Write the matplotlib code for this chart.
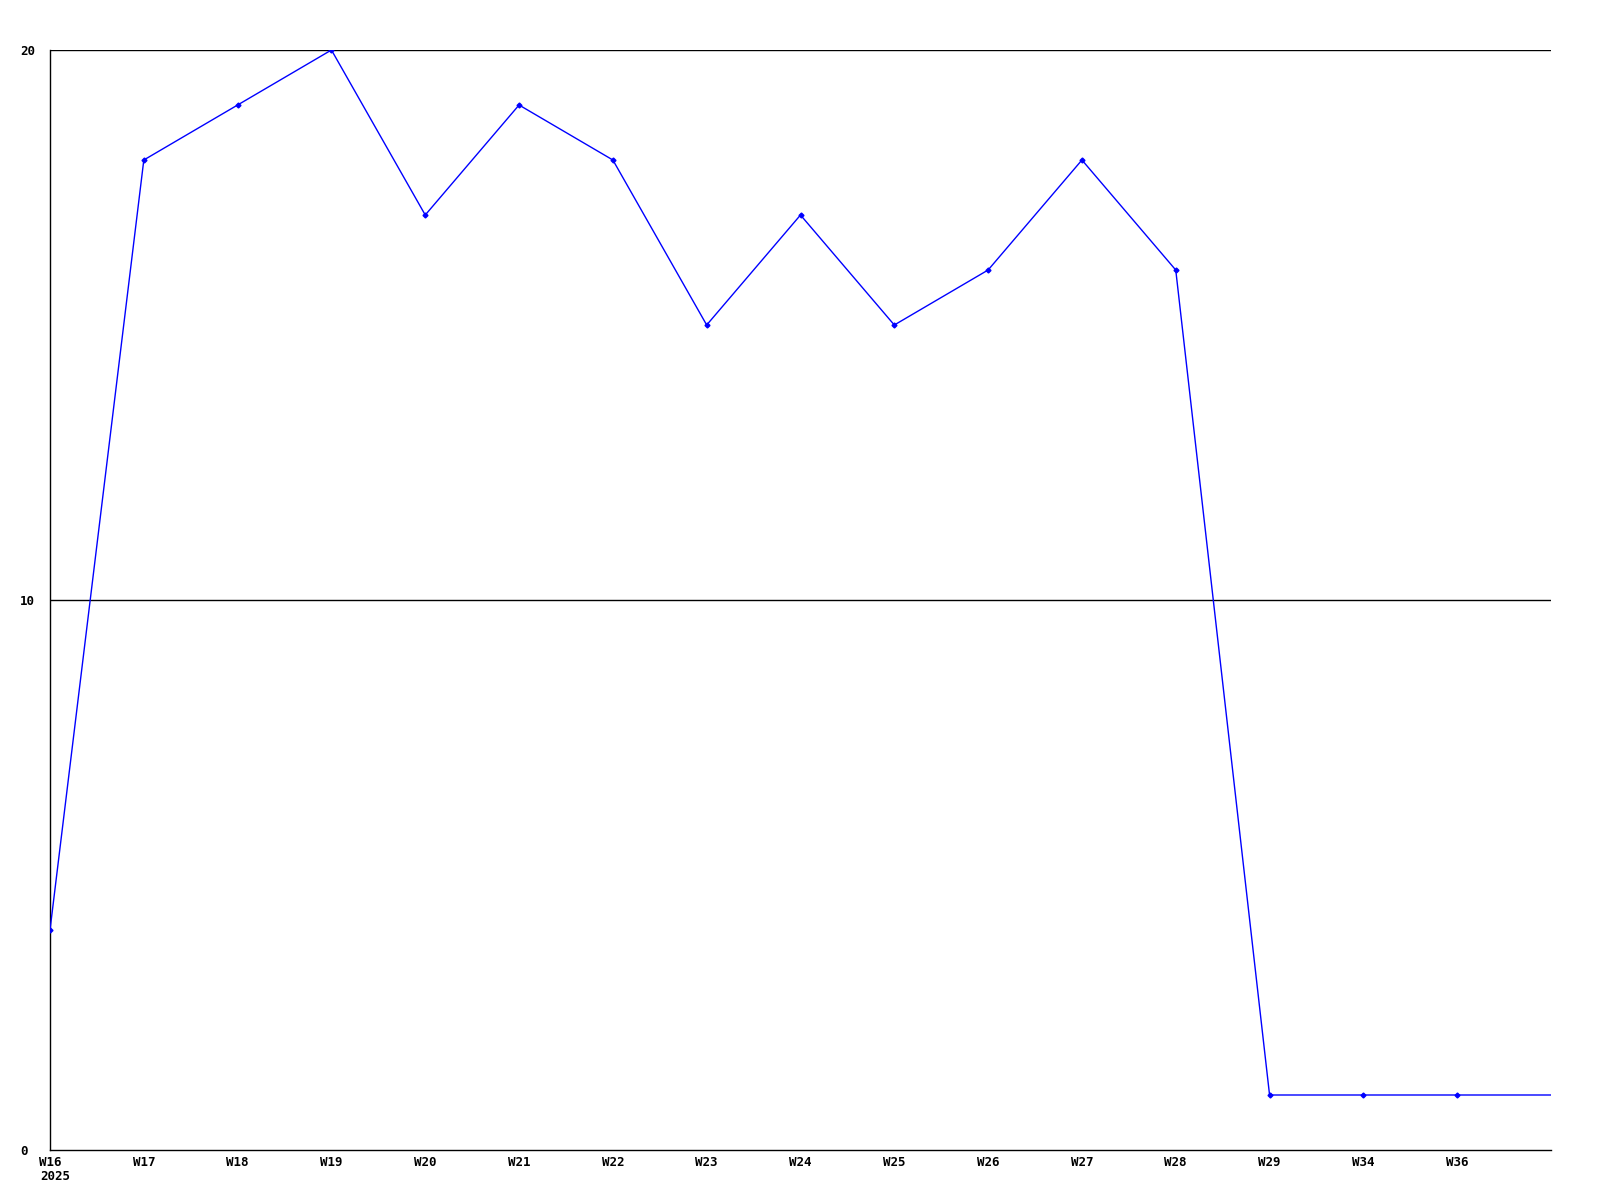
import matplotlib.pyplot as plt

# weekly counts
weeks = ['W16', 'W17', 'W18', 'W19', 'W20', 'W21', 'W22', 'W23',
         'W24', 'W25', 'W26', 'W27', 'W28', 'W29', 'W34', 'W36']
counts = [4, 18, 19, 20, 17, 19, 18, 15, 17, 15, 16, 18, 16, 1, 1, 1]
year_label = '2025'
y_ticks = [0, 10, 20]

W, H = 1600, 1200
fig = plt.figure(figsize=(W / 100, H / 100), dpi=100)
ax = fig.add_axes([50 / W, 50 / H, 1501 / W, 1100 / H])

blue = '#0000ff'
x = list(range(len(weeks)))

# line runs on to the right edge at the last value
ax.plot(x + [len(weeks)], counts + [counts[-1]], color=blue, linewidth=1, zorder=3)
ax.plot(x, counts, linestyle='none', marker='D', markersize=2.5, color=blue, zorder=4)

for yv in y_ticks[1:]:
    ax.axhline(yv, color='black', linewidth=1, zorder=2)

ax.set_xlim(0, len(weeks))
ax.set_ylim(0, 20)

for s in ['top', 'right']:
    ax.spines[s].set_visible(False)
for s in ['left', 'bottom']:
    ax.spines[s].set_color('black')
    ax.spines[s].set_linewidth(1)

font = dict(family='DejaVu Sans Mono', fontweight='bold', fontsize=9)
ax.set_xticks(x)
ax.set_xticklabels(weeks, **font)
ax.set_yticks(y_ticks)
ax.set_yticklabels([str(v) for v in y_ticks], ha='left', **font)
ax.tick_params(axis='both', length=0)
ax.tick_params(axis='y', pad=21.6)
ax.tick_params(axis='x', pad=4)

ax.text(-0.105, -0.0245, year_label, transform=ax.get_xaxis_transform(),
        ha='left', va='center', **font)

fig.savefig('out.png', dpi=100, facecolor='white')
